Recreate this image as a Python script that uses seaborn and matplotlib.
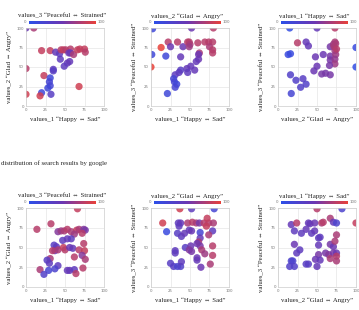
import numpy as np
import pandas as pd
import matplotlib
matplotlib.use('Agg')
import matplotlib.pyplot as plt
import seaborn as sns
from matplotlib.colors import LinearSegmentedColormap, Normalize
from matplotlib.cm import ScalarMappable

# axis / colour labels
lab_v1 = 'values_1 \u201cHappy \u21d4 Sad\u201d'
lab_v2 = 'values_2 \u201cGlad \u21d4 Angry\u201d'
lab_v3 = 'values_3 \u201cPeaceful \u21d4 Strained\u201d'
caption = 'distribution of search results by google'
tick_vals = [0, 25, 50, 75, 100]

# ---- upper row ----
# panel 1: x = values_1, y = values_2, colour = values_3
top1_x = [0, 10, 0, 0, 20, 31, 38, 43, 44, 45, 48, 51, 57, 57, 55, 61, 56, 53, 49,
          66, 69, 75, 76, 68, 35, 35, 23, 31, 30, 31, 28, 32, 20, 18]
top1_y = [100, 100, 48, 15, 71, 71, 69, 67, 60, 72, 72, 72, 73, 68, 68, 66, 57, 55, 51,
          72, 73, 73, 69, 25, 47, 45, 39, 36, 31, 26, 23, 15, 17, 13]
top1_c = [50, 75, 80, 90, 85, 85, 45, 40, 40, 80, 85, 80, 80, 45, 50, 75, 45, 45, 40,
          85, 85, 85, 80, 90, 40, 35, 85, 15, 20, 20, 15, 35, 15, 90]

# panel 2: x = values_1, y = values_3, colour = values_2
top2_x = [2, 52, 80, 1, 0, 13, 22, 25, 19, 34, 38, 41, 47, 49, 50, 49, 60, 69, 74, 79,
          75, 79, 79, 62, 61, 61, 58, 51, 46, 56, 47, 38, 36, 31, 29, 30, 33, 31, 21]
top2_y = [99, 100, 100, 66, 50, 75, 82, 76, 64, 82, 63, 76, 82, 82, 79, 76, 81, 82, 82, 82,
          76, 72, 68, 68, 66, 60, 57, 51, 48, 46, 43, 46, 43, 40, 35, 31, 28, 24, 16]
top2_c = [15, 50, 80, 15, 100, 100, 80, 50, 15, 80, 45, 50, 80, 80, 75, 70, 80, 80, 80, 80,
          75, 80, 80, 75, 50, 50, 45, 45, 45, 45, 40, 35, 40, 40, 20, 20, 15, 20, 15]

# panel 3: x = values_2, y = values_3, colour = values_1
top3_x = [15, 50, 73, 100, 100, 13, 16, 25, 36, 39, 16, 23, 32, 29, 36, 17, 48, 46, 50,
          58, 56, 61, 67, 73, 71, 74, 67, 73, 74, 67, 73, 73, 66, 67, 72, 75]
top3_y = [100, 100, 100, 75, 50, 66, 67, 81, 82, 77, 40, 33, 35, 24, 28, 16, 63, 45, 51,
          66, 41, 42, 76, 82, 79, 80, 64, 71, 66, 59, 60, 54, 52, 40, 76, 73]
top3_c = [5, 45, 80, 10, 5, 10, 10, 80, 45, 45, 30, 30, 35, 30, 30, 20, 50, 50, 50,
          50, 55, 55, 55, 75, 70, 75, 55, 70, 70, 55, 65, 70, 55, 55, 75, 80]

# ---- lower row ----
# panel 4: x = values_1, y = values_2, colour = values_3
bot1_x = [66, 14, 32, 41, 45, 49, 53, 58, 65, 68, 74, 76, 72, 62, 47, 53, 58, 36, 39, 37,
          34, 41, 48, 50, 56, 60, 62, 68, 75, 74, 72, 76, 31, 27, 30, 41, 37, 29, 18, 23,
          53, 56, 62, 64, 73]
bot1_y = [99, 73, 80, 70, 71, 71, 73, 70, 72, 73, 73, 72, 68, 67, 59, 61, 61, 53, 51, 46,
          46, 47, 50, 47, 50, 49, 38, 47, 46, 55, 40, 35, 36, 34, 30, 27, 23, 21, 22, 16,
          21, 21, 22, 17, 24]
bot1_c = [85, 80, 80, 60, 70, 75, 80, 75, 85, 75, 60, 55, 80, 70, 40, 45, 40, 35, 40, 50,
          80, 75, 85, 80, 50, 45, 80, 80, 85, 80, 60, 75, 75, 35, 40, 40, 25, 20, 75, 30,
          45, 45, 40, 80, 80]

# panel 5: x = values_1, y = values_3, colour = values_2
bot2_x = [37, 52, 81, 15, 20, 35, 38, 36, 34, 39, 43, 47, 53, 58, 49, 52, 62, 68, 74, 80,
          72, 71, 63, 63, 79, 74, 79, 44, 31, 51, 49, 52, 61, 59, 63, 65, 69, 79, 59, 59,
          76, 64, 25, 29, 34, 38, 39, 31]
bot2_y = [99, 99, 99, 81, 70, 81, 81, 77, 68, 64, 68, 81, 82, 81, 72, 71, 81, 81, 81, 81,
          87, 77, 69, 62, 71, 66, 52, 50, 46, 52, 47, 45, 57, 55, 52, 47, 42, 40, 37, 34,
          29, 25, 30, 26, 26, 26, 32, 43]
bot2_c = [90, 40, 20, 90, 10, 40, 45, 40, 35, 40, 45, 75, 80, 75, 45, 50, 55, 80, 80, 75,
          85, 85, 20, 45, 40, 75, 80, 35, 40, 50, 60, 55, 75, 50, 55, 75, 70, 80, 50, 45,
          75, 50, 35, 35, 25, 30, 40, 40]

# panel 6: x = values_2, y = values_3, colour = values_1
bot3_x = [50, 82, 100, 17, 24, 39, 41, 47, 56, 58, 67, 71, 75, 21, 30, 36, 43, 47, 52, 54,
          75, 21, 24, 28, 52, 67, 71, 73, 61, 65, 71, 75, 75, 75, 67, 52, 48, 54, 17, 19,
          15, 21, 36, 39, 50]
bot3_y = [99, 99, 81, 79, 81, 81, 80, 81, 81, 82, 87, 82, 81, 71, 68, 73, 68, 71, 62, 63,
          66, 54, 43, 47, 53, 54, 51, 58, 43, 41, 43, 43, 39, 33, 36, 41, 35, 34, 33, 33,
          26, 26, 29, 29, 26]
bot3_c = [80, 25, 85, 45, 80, 45, 45, 50, 75, 80, 75, 45, 25, 40, 40, 45, 40, 45, 40, 40,
          75, 50, 40, 40, 45, 55, 50, 75, 55, 60, 55, 50, 80, 75, 75, 55, 50, 45, 25, 25,
          30, 30, 35, 35, 45]

panels = [
    (top1_x, top1_y, top1_c, lab_v1, lab_v2, lab_v3),
    (top2_x, top2_y, top2_c, lab_v1, lab_v3, lab_v2),
    (top3_x, top3_y, top3_c, lab_v2, lab_v3, lab_v1),
    (bot1_x, bot1_y, bot1_c, lab_v1, lab_v2, lab_v3),
    (bot2_x, bot2_y, bot2_c, lab_v1, lab_v3, lab_v2),
    (bot3_x, bot3_y, bot3_c, lab_v2, lab_v3, lab_v1),
]

sns.set_style('whitegrid')
serif = ['Liberation Serif', 'DejaVu Serif']

cmap = LinearSegmentedColormap.from_list('blue_red', ['#2d4fe8', '#6b37b3', '#e8413a'])
norm = Normalize(0, 100)

W, H = 359, 310
fig = plt.figure(figsize=(W / 100, H / 100), dpi=100)

# pixel boxes of the axes (left, top, right, bottom)
col_x = [(26, 104), (151, 229), (278, 356)]
row_y = [(28, 106), (208, 287)]

def frac(l, t, r, b):
    return [l / W, 1 - b / H, (r - l) / W, (b - t) / H]

for i, (x, y, c, xl, yl, cl) in enumerate(panels):
    l, r = col_x[i % 3]
    t, b = row_y[i // 3]
    ax = fig.add_axes(frac(l, t, r, b))
    df = pd.DataFrame({'x': x, 'y': y, 'c': c})
    sns.scatterplot(data=df, x='x', y='y', hue='c', palette=cmap, hue_norm=norm,
                    s=27, alpha=0.85, linewidth=0, legend=False, ax=ax, clip_on=True)
    ax.set_xlim(0, 100)
    ax.set_ylim(0, 100)
    ax.set_xticks(tick_vals)
    ax.set_yticks(tick_vals)
    ax.tick_params(labelsize=2.8, colors='#777777', length=0, pad=1.5)
    ax.grid(color='#e6e6e6', linewidth=0.5)
    for sp in ax.spines.values():
        sp.set_color('#cccccc')
        sp.set_linewidth(0.5)
    ax.set_xlabel(xl, family=serif, fontsize=4.9, color='#222222', labelpad=3)
    ax.set_ylabel(yl, family=serif, fontsize=4.9, color='#222222', labelpad=3)

    # colour bar above the panel
    mid = (l + r) / 2
    cax = fig.add_axes(frac(mid - 36, t - 7.5, mid + 31, t - 4))
    cb = fig.colorbar(ScalarMappable(norm=norm, cmap=cmap), cax=cax, orientation='horizontal')
    cb.outline.set_visible(False)
    cax.set_xticks([])
    cax.text(-0.04, 0.5, '0', transform=cax.transAxes, ha='right', va='center',
             fontsize=2.8, color='#777777')
    cax.text(1.03, 0.5, '100', transform=cax.transAxes, ha='left', va='center',
             fontsize=2.8, color='#777777')
    cax.set_title(cl, family=serif, fontsize=4.9, color='#222222', pad=2)

fig.text(1 / W, 1 - 163 / H, caption, family=serif, fontsize=4.9, color='#222222',
         ha='left', va='center')

fig.savefig('out.png', dpi=100)
